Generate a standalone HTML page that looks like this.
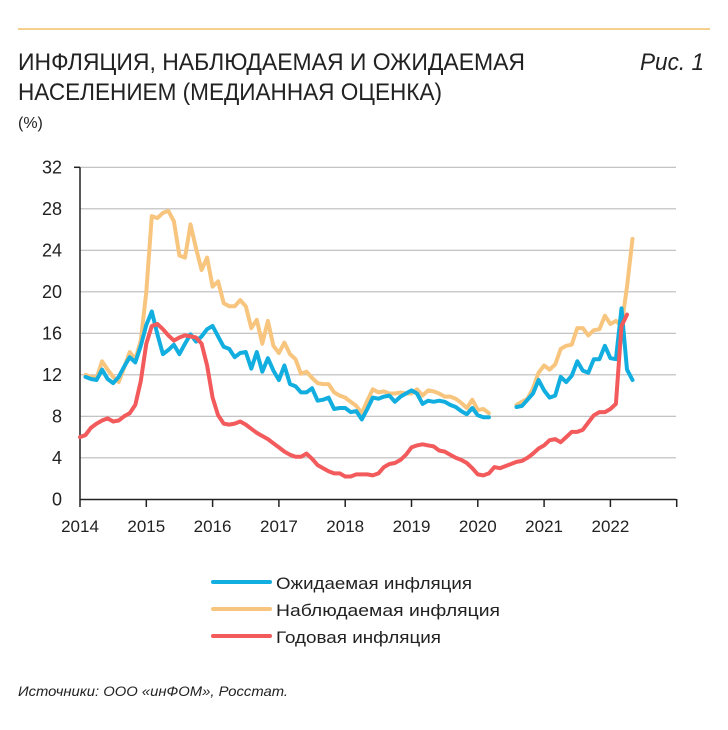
<!DOCTYPE html>
<html><head><meta charset="utf-8"><style>html,body{margin:0;padding:0;background:#fff}svg{display:block}</style></head>
<body>
<svg width="728" height="730" xmlns="http://www.w3.org/2000/svg" font-family="'Liberation Sans', 'DejaVu Sans', sans-serif">
<line x1="18" y1="29" x2="710" y2="29" stroke="#f5d08e" stroke-width="2"/>
<text x="18" y="70" font-size="24" fill="#222" textLength="507" lengthAdjust="spacingAndGlyphs">ИНФЛЯЦИЯ, НАБЛЮДАЕМАЯ И ОЖИДАЕМАЯ</text>
<text x="18" y="100" font-size="24" fill="#222" textLength="424" lengthAdjust="spacingAndGlyphs">НАСЕЛЕНИЕМ (МЕДИАННАЯ ОЦЕНКА)</text>
<text x="704" y="70" font-size="24" fill="#222" font-style="italic" text-anchor="end" textLength="64" lengthAdjust="spacingAndGlyphs">Рис. 1</text>
<text x="18" y="128" font-size="16" fill="#222">(%)</text>
<g stroke="#bbb" stroke-width="1.2" id="grid"></g>
<g font-size="18" fill="#222" text-anchor="end" id="ylab"></g>
<g font-size="17" fill="#222" text-anchor="middle" id="xlab"></g>
<g id="ser" fill="none" stroke-width="4" stroke-linejoin="round" stroke-linecap="round"></g>
<line x1="213" y1="582" x2="270" y2="582" stroke="#12aee0" stroke-width="4" stroke-linecap="round"/>
<line x1="213" y1="609" x2="270" y2="609" stroke="#f8c57f" stroke-width="4" stroke-linecap="round"/>
<line x1="213" y1="636" x2="270" y2="636" stroke="#f25a5c" stroke-width="4" stroke-linecap="round"/>
<g font-size="17" fill="#222">
<text x="276" y="589" textLength="196" lengthAdjust="spacingAndGlyphs">Ожидаемая инфляция</text>
<text x="276" y="616" textLength="224" lengthAdjust="spacingAndGlyphs">Наблюдаемая  инфляция</text>
<text x="276" y="643" textLength="165" lengthAdjust="spacingAndGlyphs">Годовая инфляция</text>
</g>
<text x="18" y="696" font-size="14" font-style="italic" fill="#222" textLength="270" lengthAdjust="spacingAndGlyphs">Источники: ООО «инФОМ», Росстат.</text>
<script>
var NS="http://www.w3.org/2000/svg";
function el(p,t,a,txt){var e=document.createElementNS(NS,t);for(var k in a)e.setAttribute(k,a[k]);if(txt!==undefined)e.textContent=txt;document.getElementById(p).appendChild(e);return e;}
function Y(v){return 499.3-v*10.375;}
function X(t){return 80+t*5.525;}
for(var v=4;v<=32;v+=4){el("grid","line",{x1:80,x2:676,y1:Y(v),y2:Y(v)});}
for(var v=0;v<=32;v+=4){el("ylab","text",{x:62,y:Y(v)+6},String(v));}
el("grid","line",{x1:80,x2:80,y1:Y(32),y2:499,stroke:"#222","stroke-width":1.5});
el("grid","line",{x1:74,x2:80,y1:Y(32),y2:Y(32),stroke:"#222","stroke-width":1.5});
el("grid","line",{x1:80,x2:676,y1:499.5,y2:499.5,stroke:"#222","stroke-width":1.5});
for(var i=0;i<=9;i++){var x=80+i*66.3;el("grid","line",{x1:x,x2:x,y1:499,y2:507,stroke:"#222","stroke-width":1.5});if(i<9)el("xlab","text",{x:x,y:532},String(2014+i));}
var red=[6.0,6.2,6.9,7.3,7.6,7.8,7.5,7.6,8.0,8.3,9.1,11.4,15.0,16.7,16.9,16.4,15.8,15.3,15.6,15.8,15.7,15.6,15.0,12.9,9.8,8.1,7.3,7.2,7.3,7.5,7.2,6.8,6.4,6.1,5.8,5.4,5.0,4.6,4.3,4.1,4.1,4.4,3.9,3.3,3.0,2.7,2.5,2.5,2.2,2.2,2.4,2.4,2.4,2.3,2.5,3.1,3.4,3.5,3.8,4.3,5.0,5.2,5.3,5.2,5.1,4.7,4.6,4.3,4.0,3.8,3.5,3.0,2.4,2.3,2.5,3.1,3.0,3.2,3.4,3.6,3.7,4.0,4.4,4.9,5.2,5.7,5.8,5.5,6.0,6.5,6.5,6.7,7.4,8.1,8.4,8.4,8.7,9.2,16.7,17.8];
var blue1=[11.8,11.6,11.5,12.5,11.6,11.2,11.8,12.8,13.7,13.2,14.8,16.8,18.1,15.9,14.0,14.4,14.9,14.0,15.0,15.9,15.2,15.7,16.4,16.7,15.7,14.7,14.5,13.7,14.1,14.2,12.6,14.2,12.3,13.6,12.4,11.5,12.9,11.1,10.9,10.3,10.3,10.7,9.5,9.6,9.8,8.7,8.8,8.8,8.4,8.5,7.7,8.7,9.8,9.7,9.9,10.0,9.4,9.9,10.2,10.5,10.2,9.2,9.5,9.4,9.5,9.4,9.1,8.9,8.5,8.2,8.8,8.1,7.9,7.9];
var blue2=[8.9,9.0,9.6,10.2,11.5,10.5,9.8,10.0,11.8,11.3,11.9,13.3,12.4,12.2,13.5,13.5,14.8,13.6,13.5,18.4,12.5,11.5];
var or1=[12.0,11.8,11.7,13.3,12.5,11.8,11.3,12.7,14.2,13.5,15.3,20.0,27.3,27.1,27.6,27.8,26.8,23.5,23.3,26.5,24.2,22.1,23.3,20.5,21.0,18.9,18.6,18.6,19.2,18.6,16.5,17.3,15.0,17.2,14.8,14.1,15.1,14.0,13.5,12.1,12.3,11.7,11.2,11.1,11.1,10.3,10.0,9.8,9.4,9.0,8.3,9.5,10.6,10.3,10.4,10.2,10.2,10.3,10.2,10.2,10.6,10.0,10.5,10.4,10.2,9.9,9.9,9.7,9.3,8.8,9.6,8.6,8.7,8.3];
var or2=[9.1,9.4,9.7,10.7,12.2,12.9,12.5,13.0,14.5,14.8,14.9,16.5,16.5,15.8,16.3,16.4,17.7,16.9,17.2,16.7,20.5,25.1];
function pl(arr,t0,c){var p=arr.map(function(v,i){return X(t0+i).toFixed(1)+","+Y(v).toFixed(1);}).join(" ");el("ser","polyline",{points:p,stroke:c});}
pl(or1,1,"#f8c57f");pl(or2,79,"#f8c57f");
pl(blue1,1,"#12aee0");pl(blue2,79,"#12aee0");
pl(red,0,"#f25a5c");
</script>
</svg>
</body></html>
